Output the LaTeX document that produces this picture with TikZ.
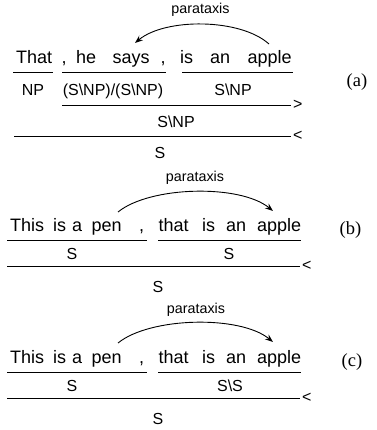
\documentclass[tikz,border=0pt]{standalone}
\usepackage{fontspec}
\setmainfont{Liberation Sans}
\newfontfamily\tagfont{Liberation Serif}
\usetikzlibrary{arrows.meta}
\begin{document}
\begin{tikzpicture}[x=1pt,y=-1pt,
  word/.style={inner sep=0pt,anchor=base west,font=\fontsize{18}{20}\selectfont},
  cat/.style={inner sep=0pt,anchor=base,font=\fontsize{16}{18}\selectfont},
  rel/.style={inner sep=0pt,anchor=base,font=\fontsize{14.3}{16}\selectfont},
  tagl/.style={inner sep=0pt,font=\tagfont\fontsize{18.5}{20}\selectfont},
  comb/.style={inner sep=0pt,anchor=west,font=\fontsize{16}{18}\selectfont},
  rulel/.style={line width=0.9pt},
  dep/.style={line width=0.9pt,-{Stealth[length=8pt,width=6pt]}}]
\useasboundingbox (0,0) rectangle (376,430);

% ---------------- (a)
\node[word] (aw1) at (16,64) {That};
\node[word] (aw2) at (61.5,64) {,};
\node[word] (aw3) at (76,64) {he};
\node[word] (aw4) at (112.5,64) {says};
\node[word] (aw5) at (160.5,64) {,};
\node[word] (aw6) at (180,64) {is};
\node[word] (aw7) at (210,64) {an};
\node[word] (aw8) at (247.5,64) {apple};
\node[rel] (arel) at (200.5,13.5) {parataxis};
\coordinate (aas) at (269,44);
\coordinate (aae) at (135,43);
\draw[dep] (aas) .. controls (240,18) and (165,18) .. (aae);

\coordinate (au1l) at (13,72.3); \coordinate (au1r) at (53,72.3);
\coordinate (au2l) at (62,72.3); \coordinate (au2r) at (166,72.3);
\coordinate (au3l) at (182,72.3); \coordinate (au3r) at (293,72.3);
\draw[rulel] (au1l) -- (au1r);
\draw[rulel] (au2l) -- (au2r);
\draw[rulel] (au3l) -- (au3r);
\node[cat] (ac1) at (33,96) {NP};
\node[cat] (ac2) at (113,96) {(S\textbackslash NP)/(S\textbackslash NP)};
\node[cat] (ac3) at (233,96) {S\textbackslash NP};
\coordinate (ar1l) at (62,105); \coordinate (ar1r) at (291,105);
\draw[rulel] (ar1l) -- (ar1r);
\node[comb] (ao1) at (293,105) {>};
\node[cat] (ac4) at (176,127.5) {S\textbackslash NP};
\coordinate (ar2l) at (14,136); \coordinate (ar2r) at (291,136);
\draw[rulel] (ar2l) -- (ar2r);
\node[comb] (ao2) at (293,136) {<};
\node[cat] (ac5) at (160,158.5) {S};
\node[tagl] (atag) at (357,82.5) {(a)};

% ---------------- (b)
\node[word] (bw1) at (10,231.7) {This};
\node[word] (bw2) at (53,231.7) {is};
\node[word] (bw3) at (72,231.7) {a};
\node[word] (bw4) at (91.5,231.7) {pen};
\node[word] (bw5) at (139,231.7) {,};
\node[word] (bw6) at (158.5,231.7) {that};
\node[word] (bw7) at (202,231.7) {is};
\node[word] (bw8) at (226,231.7) {an};
\node[word] (bw9) at (257,231.7) {apple};
\node[rel] (brel) at (195,181.5) {parataxis};
\coordinate (bas) at (118,212);
\coordinate (bae) at (273,211);
\draw[dep] (bas) .. controls (150,186) and (240,184) .. (bae);
\coordinate (bu1l) at (7,240); \coordinate (bu1r) at (147,240);
\coordinate (bu2l) at (158,240); \coordinate (bu2r) at (301,240);
\draw[rulel] (bu1l) -- (bu1r);
\draw[rulel] (bu2l) -- (bu2r);
\node[cat] (bc1) at (72,259.5) {S};
\node[cat] (bc2) at (229,259.5) {S};
\coordinate (br1l) at (7,266); \coordinate (br1r) at (300,266);
\draw[rulel] (br1l) -- (br1r);
\node[comb] (bo1) at (302,266) {<};
\node[cat] (bc3) at (158,292) {S};
\node[tagl] (btag) at (350.5,230) {(b)};

% ---------------- (c)
\node[word] (cw1) at (10,363) {This};
\node[word] (cw2) at (53,363) {is};
\node[word] (cw3) at (72,363) {a};
\node[word] (cw4) at (91.5,363) {pen};
\node[word] (cw5) at (139,363) {,};
\node[word] (cw6) at (158.5,363) {that};
\node[word] (cw7) at (202,363) {is};
\node[word] (cw8) at (226,363) {an};
\node[word] (cw9) at (257,363) {apple};
\node[rel] (crel) at (196,313.5) {parataxis};
\coordinate (cas) at (118,343);
\coordinate (cae) at (273,342);
\draw[dep] (cas) .. controls (150,317) and (240,315) .. (cae);
\coordinate (cu1l) at (7,372.3); \coordinate (cu1r) at (147,372.3);
\coordinate (cu2l) at (158,372.3); \coordinate (cu2r) at (301,372.3);
\draw[rulel] (cu1l) -- (cu1r);
\draw[rulel] (cu2l) -- (cu2r);
\node[cat] (cc1) at (72,391) {S};
\node[cat] (cc2) at (230,391) {S\textbackslash S};
\coordinate (cr1l) at (7,398.3); \coordinate (cr1r) at (300,398.3);
\draw[rulel] (cr1l) -- (cr1r);
\node[comb] (co1) at (302,398.3) {<};
\node[cat] (cc3) at (158,424) {S};
\node[tagl] (ctag) at (352,362.5) {(c)};
\end{tikzpicture}
\end{document}
